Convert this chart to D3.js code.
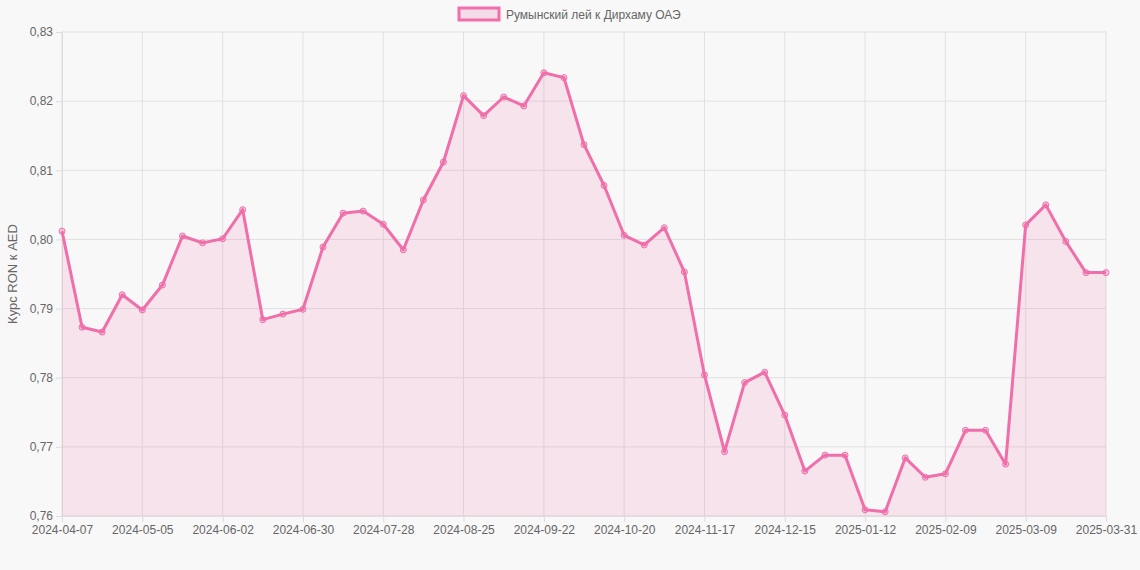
<!DOCTYPE html>
<html><head><meta charset="utf-8">
<script src="https://cdn.jsdelivr.net/npm/d3@7"></script>
<style>body{margin:0;background:#f8f8f8;font-family:"Liberation Sans",Arial,sans-serif}</style>
</head><body><svg id="c" width="1140" height="570"></svg>
<script>
const dates = ["2024-04-07","2024-04-14","2024-04-21","2024-04-28","2024-05-05","2024-05-12","2024-05-19","2024-05-26",
"2024-06-02","2024-06-09","2024-06-16","2024-06-23","2024-06-30","2024-07-07","2024-07-14","2024-07-21",
"2024-07-28","2024-08-04","2024-08-11","2024-08-18","2024-08-25","2024-09-01","2024-09-08","2024-09-15",
"2024-09-22","2024-09-29","2024-10-06","2024-10-13","2024-10-20","2024-10-27","2024-11-03","2024-11-10",
"2024-11-17","2024-11-24","2024-12-01","2024-12-08","2024-12-15","2024-12-22","2024-12-29","2025-01-05",
"2025-01-12","2025-01-19","2025-01-26","2025-02-02","2025-02-09","2025-02-16","2025-02-23","2025-03-02",
"2025-03-09","2025-03-16","2025-03-23","2025-03-30","2025-03-31"];
const rates = [0.8012,0.7873,0.7866,0.7920,0.7898,0.7934,0.8005,0.7995,0.8001,0.8043,0.7884,0.7892,0.7899,
0.7989,0.8038,0.8041,0.8022,0.7985,0.8057,0.8112,0.8208,0.8179,0.8206,0.8193,0.8241,0.8234,0.8137,0.8078,
0.8006,0.7992,0.8017,0.7953,0.7804,0.7693,0.7793,0.7808,0.7746,0.7665,0.7688,0.7688,0.7609,0.7606,0.7684,
0.7656,0.7661,0.7724,0.7724,0.7675,0.8021,0.8050,0.7997,0.7952,0.7952];
const yTicks = [0.76,0.77,0.78,0.79,0.80,0.81,0.82,0.83];
const tickDates = dates.filter((d,i)=>i%4===0||i===dates.length-1);
const seriesName = "Румынский лей к Дирхаму ОАЭ";
const color = "#f06eaa";

const svg = d3.select("#c");
const m = {left:62, right:1106, top:32, bottom:516};
const x = d3.scalePoint().domain(dates).range([m.left,m.right]);
const y = d3.scaleLinear().domain([0.76,0.83]).range([m.bottom,m.top]);
const fmt = v => d3.format(".2f")(v).replace(".",",");

// grid
svg.append("g").selectAll("line").data(yTicks).join("line")
  .attr("x1",m.left).attr("x2",m.right).attr("y1",d=>y(d)).attr("y2",d=>y(d))
  .attr("stroke","#e0e0e0");
svg.append("g").selectAll("line").data(tickDates).join("line")
  .attr("y1",m.top).attr("y2",m.bottom).attr("x1",d=>x(d)).attr("x2",d=>x(d))
  .attr("stroke","#e0e0e0");

// axes
const ya = svg.append("g").attr("transform",`translate(${m.left},0)`)
  .call(d3.axisLeft(y).tickValues(yTicks).tickFormat(fmt).tickSize(6));
const xa = svg.append("g").attr("transform",`translate(0,${m.bottom})`)
  .call(d3.axisBottom(x).tickValues(tickDates).tickSize(6));
[ya,xa].forEach(a=>{
  a.selectAll("path,line").attr("stroke","#ddd");
  a.selectAll("text").attr("fill","#666").style("font-size","12px").style("font-family","Liberation Sans, Arial");
});

svg.append("text").attr("transform","rotate(-90)").attr("x",-(m.top+m.bottom)/2).attr("y",17)
  .attr("text-anchor","middle").attr("fill","#666").style("font-size","13px").text("Курс RON к AED");

// area + line
svg.append("path").datum(rates)
  .attr("d",d3.area().x((d,i)=>x(dates[i])).y0(m.bottom).y1(d=>y(d)))
  .attr("fill",color).attr("fill-opacity",0.15);
svg.append("path").datum(rates)
  .attr("d",d3.line().x((d,i)=>x(dates[i])).y(d=>y(d)))
  .attr("fill","none").attr("stroke",color).attr("stroke-width",3).attr("stroke-linejoin","round");
svg.append("g").selectAll("circle").data(rates).join("circle")
  .attr("cx",(d,i)=>x(dates[i])).attr("cy",d=>y(d)).attr("r",3)
  .attr("fill","rgba(240,110,170,0.3)").attr("stroke",color).attr("stroke-width",1);

// legend
const lg = svg.append("g");
lg.append("rect").attr("x",459).attr("y",8).attr("width",40).attr("height",12)
  .attr("fill","rgba(240,110,170,0.2)").attr("stroke",color).attr("stroke-width",3);
lg.append("text").attr("x",506).attr("y",19).attr("fill","#666").style("font-size","12px").text(seriesName);
</script></body></html>
